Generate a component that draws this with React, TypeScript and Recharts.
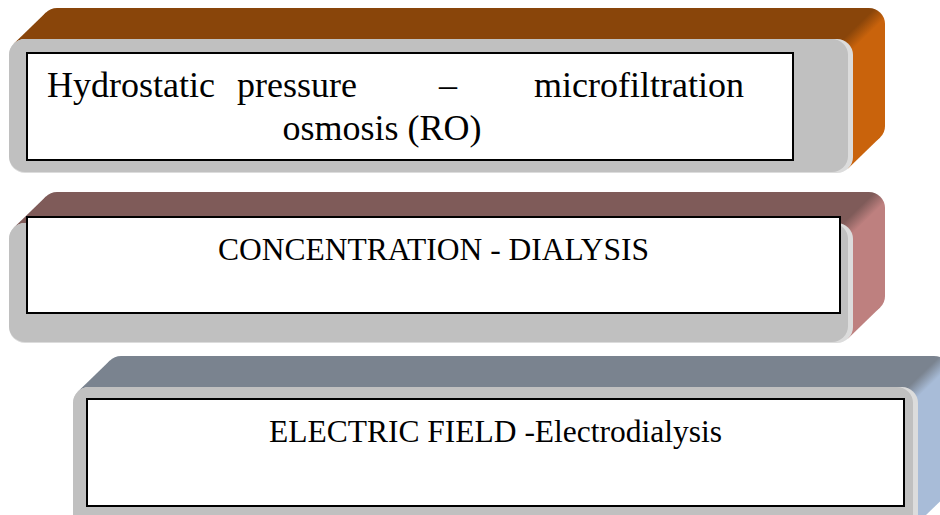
import React from 'react';
import { ComposedChart, XAxis, YAxis, ReferenceArea } from 'recharts';

const W = 940;
const H = 515;

// Stage (box) names
const stages = ['Hydrostatic', 'Concentration', 'Electric field'];
// Text lines shown inside each box
const stageLines: string[][] = [
  ['Hydrostatic pressure – microfiltration', 'osmosis (RO)'],
  ['CONCENTRATION - DIALYSIS'],
  ['ELECTRIC FIELD -Electrodialysis'],
];
// Front face extents of each 3D box (in chart units)
const frontLeft = [9, 9, 73];
const frontRight = [853, 853, 918];
const frontTop = [39, 223, 387];
const frontBottom = [173, 343, 532];
// White label frame extents
const labelLeft = [27, 27, 87];
const labelRight = [793, 840, 904];
const labelTop = [53, 217, 399];
const labelBottom = [160, 313, 506];

const topColors = ['#89450a', '#7f5b59', '#7a838f'];
const sideColors = ['#c9630c', '#be807f', '#a8bcd8'];

const DX = 32;
const DY = 31;
const R = 16;
const FONT = "'Liberation Serif', 'Times New Roman', serif";

const rows = stages.map((s, i) => ({
  stage: s,
  x0: frontLeft[i],
  x1: frontRight[i],
  y0: frontTop[i],
  y1: frontBottom[i],
}));

function makeBoxShape(i: number) {
  return (props: any) => {
    const { x, y, width, height } = props;
    const x1 = x + width;
    const y1 = y + height;
    const k = 0.293 * R;
    const P1 = [x + k, y + k];
    const Q = [x1 - k, y1 - k];
    const A = [x1 - k, y + k];
    const len = Math.hypot(DX, DY);
    const n = [-DY / len, -DX / len];
    const g = 7;
    const gid = `boxgrad${i}`;
    const band = `M ${P1[0]} ${P1[1]} L ${P1[0] + DX} ${P1[1] - DY} L ${Q[0] + DX} ${Q[1] - DY} L ${Q[0]} ${Q[1]} Z`;
    return (
      <g>
        <defs>
          <linearGradient
            id={gid}
            gradientUnits="userSpaceOnUse"
            x1={A[0] + g * n[0]}
            y1={A[1] + g * n[1]}
            x2={A[0] - g * n[0]}
            y2={A[1] - g * n[1]}
          >
            <stop offset="0" stopColor={topColors[i]} />
            <stop offset="1" stopColor={sideColors[i]} />
          </linearGradient>
        </defs>
        <rect x={x + DX} y={y - DY} width={width} height={height} rx={R} fill={`url(#${gid})`} />
        <path d={band} fill={`url(#${gid})`} />
        <rect x={x} y={y} width={width} height={height} rx={R} fill="#dcdcdc" />
        <rect x={x} y={y} width={width - 5} height={height - 1} rx={R} fill="#c0c0c0" />
      </g>
    );
  };
}

function makeLabelShape(i: number) {
  return (props: any) => {
    const { x, y, width, height } = props;
    const cx = x + width / 2;
    let content: React.ReactNode;
    if (i === 0) {
      const words = stageLines[0][0].split(' ');
      content = (
        <text fontFamily={FONT} fontSize={36} fill="#000">
          <tspan x={x + 20} y={y + 44}>{words[0]}</tspan>
          <tspan x={x + 210} y={y + 44}>{words[1]}</tspan>
          <tspan x={x + 421} y={y + 44} textAnchor="middle">{words[2]}</tspan>
          <tspan x={x + 717} y={y + 44} textAnchor="end">{words[3]}</tspan>
          <tspan x={x + 355} y={y + 87} textAnchor="middle">{stageLines[0][1]}</tspan>
        </text>
      );
    } else {
      content = (
        <text x={cx} y={y + 43} textAnchor="middle" fontFamily={FONT} fontSize={31.5} fill="#000">
          {stageLines[i][0]}
        </text>
      );
    }
    return (
      <g>
        <rect x={x} y={y} width={width} height={height} fill="#ffffff" stroke="#000" strokeWidth={2} />
        {content}
      </g>
    );
  };
}

export default function App() {
  return (
    <div style={{ position: 'absolute', left: 0, top: 0, width: W, height: H, background: '#fff' }}>
      <ComposedChart width={W} height={H} data={rows} margin={{ top: 0, right: 0, bottom: 0, left: 0 }}>
        <XAxis type="number" dataKey="x0" domain={[0, W]} hide allowDataOverflow />
        <YAxis type="number" dataKey="y0" domain={[0, H]} reversed hide allowDataOverflow />
        {stages.map((s, i) => (
          <ReferenceArea
            key={`box-${s}`}
            x1={frontLeft[i]}
            x2={frontRight[i]}
            y1={frontTop[i]}
            y2={frontBottom[i]}
            ifOverflow="visible"
            shape={makeBoxShape(i)}
          />
        ))}
        {stages.map((s, i) => (
          <ReferenceArea
            key={`label-${s}`}
            x1={labelLeft[i]}
            x2={labelRight[i]}
            y1={labelTop[i]}
            y2={labelBottom[i]}
            ifOverflow="visible"
            shape={makeLabelShape(i)}
          />
        ))}
      </ComposedChart>
    </div>
  );
}
